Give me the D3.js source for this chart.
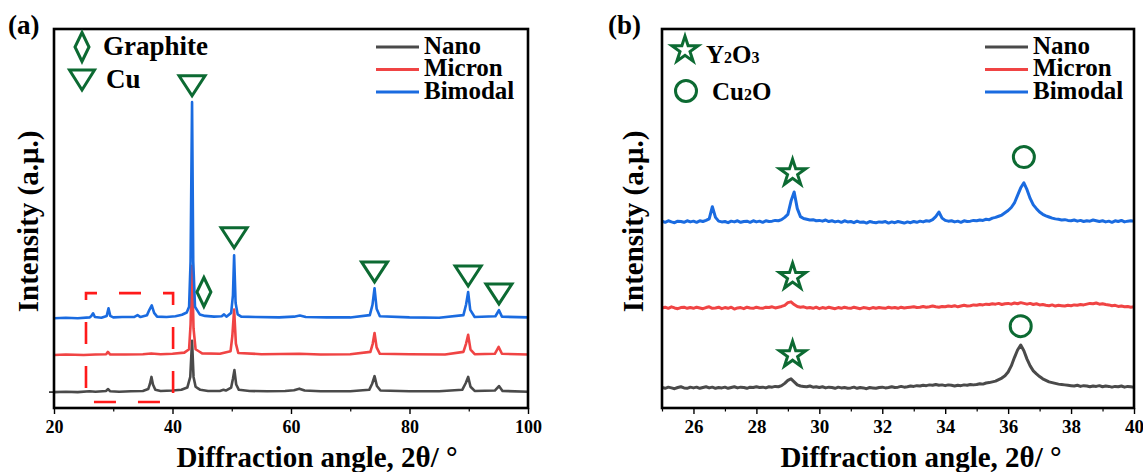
<!DOCTYPE html>
<html>
<head>
<meta charset="utf-8">
<script src="https://cdn.jsdelivr.net/npm/d3@7/dist/d3.min.js"></script>
<style>
  html, body { margin: 0; padding: 0; background: #fff; }
  svg { display: block; }
  text { font-family: "Liberation Serif", "Times New Roman", serif; font-weight: bold; fill: #000; }
</style>
</head>
<body>
<div id="chart"></div>
<script>
/* ---------- data ---------- */

const seriesNames = ['Nano', 'Micron', 'Bimodal'];

/* (a) full scan, 2θ in degrees vs relative intensity above each baseline */
const nanoFull = [
  [20, 0], [22, 1], [24, 0], [26, 2], [27, 1], [28.8, 3], [29.1, 8], [29.5, 2],
  [31, 1], [33, 2], [35, 3], [35.9, 8], [36.2, 22], [36.45, 40], [36.7, 20],
  [37.1, 6], [38, 3], [40, 4], [41.5, 6], [42.5, 12], [43.0, 40], [43.3, 135],
  [43.55, 40], [43.9, 14], [44.3, 10], [44.7, 6], [46, 3], [48, 3], [48.6, 6],
  [49, 4], [49.9, 12], [50.2, 35], [50.45, 58], [50.75, 20], [51.2, 6], [53, 3],
  [56, 2], [59, 3], [60.5, 5], [61.4, 9], [62.3, 4], [65, 2], [70, 2], [73.2, 6],
  [73.7, 22], [74.1, 42], [74.5, 16], [75.1, 4], [80, 2], [85, 2], [88.9, 6],
  [89.5, 24], [89.9, 40], [90.3, 14], [91, 3], [94.4, 4], [95.1, 16], [95.7, 3],
  [100, 1]
];
const micronFull = [
  [20, 0], [22, 1], [25, 0], [27, 1], [28.8, 2], [29.1, 8], [29.5, 1], [32, 1],
  [35, 2], [36.4, 4], [38, 2], [40, 3], [42, 6], [42.8, 15], [43.05, 80],
  [43.3, 235], [43.55, 70], [43.9, 15], [44.5, 9], [45, 4], [48, 3], [49.8, 10],
  [50.1, 50], [50.4, 120], [50.7, 30], [51.1, 5], [55, 2], [61.4, 3], [65, 1],
  [70, 2], [73.4, 8], [73.8, 30], [74.1, 58], [74.45, 20], [75, 3], [80, 2],
  [86, 1], [89.1, 8], [89.55, 30], [89.9, 53], [90.3, 14], [91, 2], [94.4, 3],
  [95.05, 21], [95.6, 3], [100, 1]
];
const bimodalFull = [
  [20, 0], [22, 1], [24, 0], [26, 2], [26.3, 6], [26.6, 13], [26.9, 3], [28, 1],
  [28.9, 6], [29.2, 26], [29.5, 6], [30, 2], [31.5, 3], [33.5, 3], [34.1, 8],
  [34.6, 3], [35.7, 8], [36.1, 22], [36.5, 34], [36.9, 14], [37.4, 4], [39, 3],
  [40.5, 5], [41.6, 9], [42.4, 15], [42.8, 30], [43.05, 150], [43.3, 570],
  [43.5, 150], [43.8, 30], [44.2, 20], [44.6, 10], [45.5, 6], [47, 4], [48.3, 5],
  [48.7, 10], [49.1, 4], [49.9, 14], [50.2, 60], [50.4, 166], [50.65, 40],
  [51, 10], [51.6, 4], [54, 3], [58, 2], [60.5, 4], [61.5, 7], [62.5, 3], [66, 2],
  [70, 2], [73.3, 8], [73.75, 35], [74.1, 79], [74.45, 25], [75, 5], [80, 2],
  [85, 1], [89.1, 8], [89.55, 36], [89.9, 69], [90.25, 22], [91, 3], [94.5, 5],
  [95.1, 21], [95.6, 4], [100, 2]
];
const fullOffsets = [42, 140, 237];

/* (b) detail scan, one value per 0.1° from 25.0 to 40.0 */
const detailStart = 25, detailStep = 0.1;
const nanoDetail = [
  1, -1, 2, 0, -2, 1, 3, 0, -1, 2,
  0, 2, -1, 1, 3, 0, 2, -1, 1, 0,
  2, -1, 1, 3, 0, 2, 1, -1, 2, 1,
  3, 1, 2, 0, 3, 2, 4, 3, 6, 12,
  20, 24, 16, 8, 5, 4, 3, 5, 2, 3,
  1, 3, 0, 2, 1, -1, 2, 0, 1, -1,
  0, 2, -1, 1, 0, -2, 1, 0, -1, 1,
  2, 0, 1, 3, 1, 2, 4, 2, 3, 5,
  4, 6, 5, 7, 6, 8, 7, 9, 7, 8,
  6, 8, 7, 5, 7, 6, 8, 7, 9, 8,
  9, 11, 10, 13, 14, 16, 18, 22, 26, 32,
  42, 58, 80, 100, 113, 98, 76, 58, 45, 37,
  30, 24, 20, 16, 14, 12, 10, 9, 8, 7,
  6, 5, 7, 4, 6, 5, 3, 5, 4, 6,
  3, 5, 4, 2, 4, 3, 5, 2, 4, 3,
  2
];
const micronDetail = [
  0, 2, -1, 3, 0, -2, 1, 2, -1, 1,
  -1, 2, 0, -2, 1, 3, -1, 0, 2, -2,
  1, -1, 2, -3, 0, 1, -2, 2, 0, -1,
  2, 0, -1, 2, 1, 3, 0, 2, 4, 7,
  14, 16, 9, 4, 2, 3, 0, 1, -1, 2,
  -2, 1, -1, 2, 0, -2, 1, -1, 2, 0,
  -1, 2, 0, -2, 1, 0, -2, 1, -1, 1,
  0, -1, 2, 0, 1, -1, 2, 0, 1, 2,
  3, 1, 2, 4, 2, 3, 5, 3, 2, 4,
  3, 5, 4, 6, 3, 5, 7, 5, 6, 8,
  7, 9, 8, 10, 9, 11, 10, 12, 9, 11,
  12, 10, 13, 11, 14, 12, 10, 12, 9, 11,
  8, 9, 7, 6, 8, 5, 7, 6, 5, 7,
  6, 8, 7, 9, 8, 10, 12, 11, 13, 10,
  11, 9, 8, 6, 7, 4, 5, 3, 4, 2,
  3
];
const bimodalDetail = [
  2, -1, 3, 0, -2, 2, 1, -1, 3, 0,
  2, -1, 3, 1, 4, 8, 40, 12, 2, 0,
  1, -2, 2, 0, 3, -1, 1, 2, -1, 3,
  0, 2, -1, 3, 1, 2, 4, 3, 6, 12,
  20, 55, 79, 35, 14, 9, 7, 5, 6, 3,
  4, 2, 5, 1, 3, 0, 2, -1, 3, 0,
  1, -2, 2, -1, 0, -3, 1, -1, -2, 0,
  -1, 1, -3, 0, -2, 1, -1, -3, 0, -2,
  1, -1, 2, 0, 3, 2, 6, 14, 26, 10,
  4, 2, 3, 0, 2, -1, 3, 1, 2, 4,
  3, 5, 4, 7, 6, 10, 12, 15, 18, 24,
  30, 38, 50, 70, 90, 103, 85, 62, 45, 35,
  26, 20, 16, 13, 10, 8, 7, 5, 6, 4,
  3, 5, 2, 4, 1, 3, 2, 5, 3, 1,
  3, 0, 2, -1, 3, 1, 4, 0, 2, 3,
  2
];
const detailOffsets = [53, 264, 491];

/* phase markers: [2θ, level on the intensity axis] */
const cuMarks = [[43.3, 850], [50.4, 449], [74.1, 359], [89.9, 348], [95.1, 301]];
const graphiteMarks = [[45.3, 306]];
const y2o3Marks = [[29.15, 620], [29.15, 346], [29.15, 140]];
const cu2oMarks = [[36.5, 662], [36.4, 216]];
const zoomBox = [25.4, 40.1, 16, 303];   // x0, x1, y0, y1 in data units

const fullTicks = [20, 40, 60, 80, 100];
const fullMinor = [30, 50, 70, 90];
const detailTicks = [26, 28, 30, 32, 34, 36, 38, 40];
const detailMinor = [25, 27, 29, 31, 33, 35, 37, 39];

/* ---------- styles ---------- */
const colors = { Nano: '#4a4a4a', Micron: '#f04444', Bimodal: '#1a6be0' };
const green = '#0c6a32';

const W = 1143, H = 472;
const svg = d3.select('#chart').append('svg')
    .attr('width', W).attr('height', H)
    .attr('viewBox', `0 0 ${W} ${H}`);

/* marker paths centred on 0,0 */
const trianglePath = (w, h) => `M${-w / 2},${-h / 2}L${w / 2},${-h / 2}L0,${h / 2}Z`;
const diamondPath = (w, h) => `M0,${-h / 2}L${w / 2},0L0,${h / 2}L${-w / 2},0Z`;
const starPath = d3.symbol(d3.symbolStar, 215)();

/** Pair a list of evenly spaced readings with their 2θ values. */
const toPoints = vals => vals.map((v, i) => [detailStart + i * detailStep, v]);

/**
 * Draw one panel: frame, axes, traces, series legend.
 *
 * @param {Object} opt Panel layout and data
 * @returns {Object} The scales and group
 */
function drawPanel(opt) {
  const x = d3.scaleLinear().domain(opt.xDomain).range([opt.left, opt.right]);
  const y = d3.scaleLinear().domain([0, 1000]).range([opt.bottom, opt.top]);
  const g = svg.append('g').attr('class', 'panel');

  let line = d3.line()
      .x(d => x(d[0]))
      .y(d => y(d[1]));

  g.append('defs').append('clipPath').attr('id', opt.id + '-clip')
      .append('rect')
      .attr('x', opt.left).attr('y', opt.top)
      .attr('width', opt.right - opt.left).attr('height', opt.bottom - opt.top);

  let traces = g.append('g').attr('clip-path', `url(#${opt.id}-clip)`);
  opt.series.forEach((s, i) => {
    let off = opt.offsets[i];
    traces.append('path')
        .datum(s.map(d => [d[0], d[1] + off]))
        .attr('fill', 'none')
        .attr('stroke', colors[seriesNames[i]])
        .attr('stroke-width', opt.lineWidth)
        .attr('stroke-linejoin', 'round')
        .attr('d', line);
  });

  /* x axis: major + minor ticks */
  let axisMajor = d3.axisBottom(x).tickValues(opt.ticks)
      .tickSize(6).tickPadding(6).tickFormat(d3.format('d'));
  let axisMinor = d3.axisBottom(x).tickValues(opt.minor)
      .tickSize(3.5).tickFormat('');

  g.append('g').attr('transform', `translate(0,${opt.bottom})`).call(axisMinor)
      .call(a => a.select('.domain').remove())
      .call(a => a.selectAll('line').attr('stroke-width', 1.2));
  g.append('g').attr('transform', `translate(0,${opt.bottom})`).call(axisMajor)
      .call(a => a.select('.domain').remove())
      .call(a => a.selectAll('line').attr('stroke-width', 1.4))
      .call(a => a.selectAll('text')
          .attr('font-size', opt.tickFont)
          .attr('font-family', '"Liberation Serif", serif')
          .attr('font-weight', 'bold')
          .attr('fill', '#000'));

  /* frame */
  g.append('rect')
      .attr('x', opt.left).attr('y', opt.top)
      .attr('width', opt.right - opt.left).attr('height', opt.bottom - opt.top)
      .attr('fill', 'none').attr('stroke', '#000').attr('stroke-width', 2.6);

  /* axis titles */
  g.append('text')
      .attr('x', opt.xTitleX).attr('y', 467)
      .attr('text-anchor', 'middle')
      .attr('font-size', 29)
      .text('Diffraction angle, 2θ/ °');
  g.append('text')
      .attr('transform', `translate(${opt.yTitleX},${(opt.top + opt.bottom) / 2 + 3}) rotate(-90)`)
      .attr('text-anchor', 'middle')
      .attr('font-size', 29)
      .text('Intensity (a.μ.)');

  g.append('text')
      .attr('x', opt.labelX).attr('y', 34)
      .attr('font-size', 27)
      .text(opt.label);

  /* series legend */
  seriesNames.forEach((name, i) => {
    let ly = 47 + i * 22.5;
    g.append('line')
        .attr('x1', opt.legendX).attr('x2', opt.legendX + 43)
        .attr('y1', ly).attr('y2', ly)
        .attr('stroke', colors[name]).attr('stroke-width', 3);
    g.append('text')
        .attr('x', opt.legendX + 48).attr('y', ly + 6.5)
        .attr('font-size', 25)
        .attr('textLength', null)
        .text(name);
  });

  return { x, y, g };
}

/* ---------- panel (a) ---------- */
const a = drawPanel({
  id: 'pa', label: '(a)', labelX: 8,
  left: 54, right: 528, top: 29, bottom: 408,
  xDomain: [20, 100], ticks: fullTicks, minor: fullMinor, tickFont: 18,
  series: [nanoFull, micronFull, bimodalFull], offsets: fullOffsets, lineWidth: 2.6,
  xTitleX: 317, yTitleX: 38, legendX: 376
});

/* single y tick at the lowest baseline */
a.g.append('line')
    .attr('x1', a.x(20) - 5).attr('x2', a.x(20))
    .attr('y1', a.y(fullOffsets[0])).attr('y2', a.y(fullOffsets[0]))
    .attr('stroke', '#000').attr('stroke-width', 1.4);

/* dashed zoom box */
a.g.append('rect')
    .attr('x', a.x(zoomBox[0])).attr('y', a.y(zoomBox[3]))
    .attr('width', a.x(zoomBox[1]) - a.x(zoomBox[0]))
    .attr('height', a.y(zoomBox[2]) - a.y(zoomBox[3]))
    .attr('fill', 'none').attr('stroke', '#ff1a1a').attr('stroke-width', 2.6)
    .attr('stroke-dasharray', '22 22').attr('stroke-dashoffset', 11);

a.g.selectAll('path.cu').data(cuMarks).join('path')
    .attr('class', 'cu')
    .attr('transform', d => `translate(${a.x(d[0])},${a.y(d[1])})`)
    .attr('d', trianglePath(26, 20))
    .attr('fill', 'none').attr('stroke', green).attr('stroke-width', 3);
a.g.selectAll('path.gr').data(graphiteMarks).join('path')
    .attr('class', 'gr')
    .attr('transform', d => `translate(${a.x(d[0])},${a.y(d[1])})`)
    .attr('d', diamondPath(14, 29))
    .attr('fill', 'none').attr('stroke', green).attr('stroke-width', 3);

/* phase legend (a) */
a.g.append('path').attr('transform', 'translate(82,47)')
    .attr('d', diamondPath(14, 29))
    .attr('fill', 'none').attr('stroke', green).attr('stroke-width', 3);
a.g.append('text').attr('x', 103).attr('y', 55).attr('font-size', 27).text('Graphite');
a.g.append('path').attr('transform', 'translate(82,80)')
    .attr('d', trianglePath(25, 20))
    .attr('fill', 'none').attr('stroke', green).attr('stroke-width', 3);
a.g.append('text').attr('x', 106).attr('y', 88).attr('font-size', 27).text('Cu');

/* ---------- panel (b) ---------- */
const b = drawPanel({
  id: 'pb', label: '(b)', labelX: 608,
  left: 662, right: 1134, top: 29, bottom: 408,
  xDomain: [25, 40], ticks: detailTicks, minor: detailMinor, tickFont: 19,
  series: [nanoDetail, micronDetail, bimodalDetail].map(toPoints),
  offsets: detailOffsets, lineWidth: 3,
  xTitleX: 921, yTitleX: 643, legendX: 985
});

b.g.selectAll('path.star').data(y2o3Marks).join('path')
    .attr('class', 'star')
    .attr('transform', d => `translate(${b.x(d[0])},${b.y(d[1])})`)
    .attr('d', starPath)
    .attr('fill', 'none').attr('stroke', green).attr('stroke-width', 3);
b.g.selectAll('circle.cu2o').data(cu2oMarks).join('circle')
    .attr('class', 'cu2o')
    .attr('cx', d => b.x(d[0])).attr('cy', d => b.y(d[1])).attr('r', 10.5)
    .attr('fill', 'none').attr('stroke', green).attr('stroke-width', 3);

/* phase legend (b) */
b.g.append('path').attr('transform', 'translate(685,50)')
    .attr('d', starPath)
    .attr('fill', 'none').attr('stroke', green).attr('stroke-width', 3);
let t1 = b.g.append('text').attr('x', 706).attr('y', 63).attr('font-size', 25);
t1.append('tspan').text('Y');
t1.append('tspan').attr('font-size', 16).text('2');
t1.append('tspan').text('O');
t1.append('tspan').attr('font-size', 16).text('3');
b.g.append('circle').attr('cx', 686).attr('cy', 91).attr('r', 10.5)
    .attr('fill', 'none').attr('stroke', green).attr('stroke-width', 3);
let t2 = b.g.append('text').attr('x', 712).attr('y', 100).attr('font-size', 25);
t2.append('tspan').text('Cu');
t2.append('tspan').attr('font-size', 16).text('2');
t2.append('tspan').text('O');
</script>
</body>
</html>
